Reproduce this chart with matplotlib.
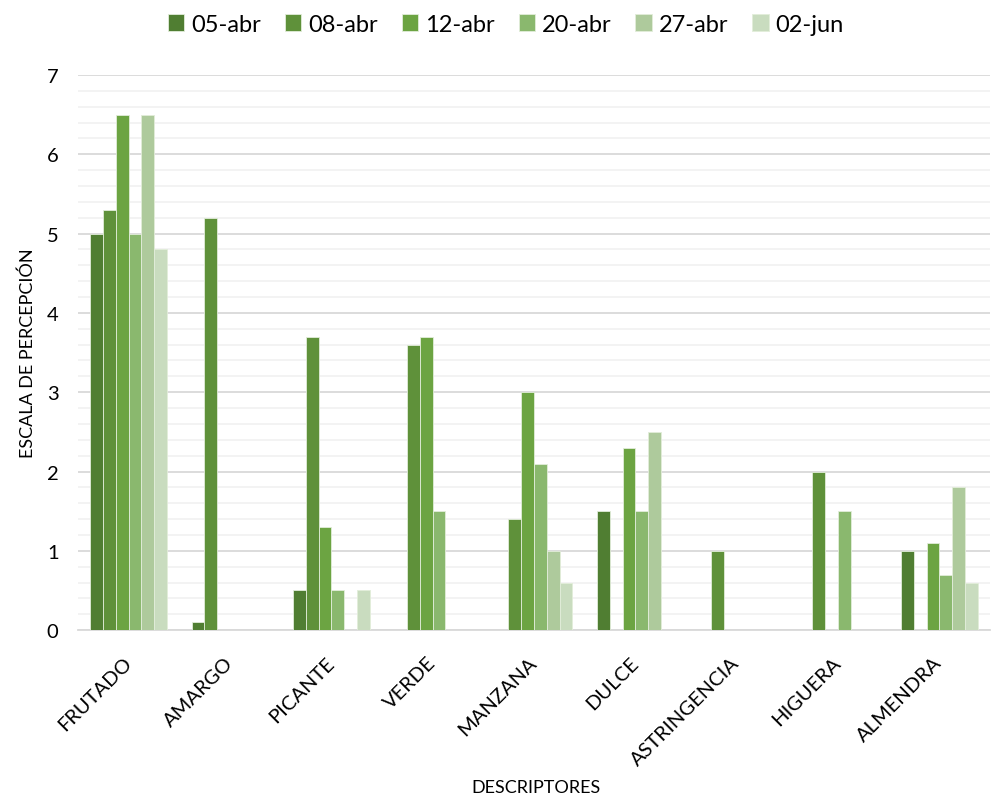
import matplotlib.pyplot as plt
import numpy as np

plt.rcParams['font.family'] = ['Lato', 'DejaVu Sans']

# descriptores y fechas de cata
descriptores = ['FRUTADO', 'AMARGO', 'PICANTE', 'VERDE', 'MANZANA', 'DULCE',
                'ASTRINGENCIA', 'HIGUERA', 'ALMENDRA']
fechas = ['05-abr', '08-abr', '12-abr', '20-abr', '27-abr', '02-jun']

abr05 = [5.0, 0.1, 0.5, 0.0, 0.0, 1.5, 0.0, 0.0, 1.0]
abr08 = [5.3, 5.2, 3.7, 3.6, 1.4, 0.0, 1.0, 2.0, 0.0]
abr12 = [6.5, 0.0, 1.3, 3.7, 3.0, 2.3, 0.0, 0.0, 1.1]
abr20 = [5.0, 0.0, 0.5, 1.5, 2.1, 1.5, 0.0, 1.5, 0.7]
abr27 = [6.5, 0.0, 0.0, 0.0, 1.0, 2.5, 0.0, 0.0, 1.8]
jun02 = [4.8, 0.0, 0.5, 0.0, 0.6, 0.0, 0.0, 0.0, 0.6]
series = [abr05, abr08, abr12, abr20, abr27, jun02]

colores = ['#507E32', '#5F913A', '#6CA442', '#8AB86E', '#AECA9C', '#C9DCBF']

fig = plt.figure(figsize=(9.92, 8.04), dpi=100)
ax = fig.add_axes([0.0786, 0.215, 0.9194, 0.6905])

x = np.arange(len(descriptores))
ancho = 0.126
for i, (vals, fecha, c) in enumerate(zip(series, fechas, colores)):
    pos = x + (i - 2.5) * ancho
    ax.bar(pos, vals, width=ancho, color=c, edgecolor='#E2EDDA', linewidth=0.6,
           label=fecha, zorder=3)

ax.set_xlim(-0.5, len(descriptores) - 0.5)
ax.set_ylim(0, 7)
ax.set_yticks(range(0, 8))
ax.set_yticks(np.arange(0, 7.01, 0.2), minor=True)
ax.grid(axis='y', which='major', color='#D9D9D9', linewidth=1.3, zorder=0)
ax.grid(axis='y', which='minor', color='#F2F2F2', linewidth=1.3, zorder=0)
ax.tick_params(axis='y', which='both', length=0, labelsize=14.5, pad=14)
ax.tick_params(axis='x', length=0, labelsize=14.5, pad=21)
ax.set_xticks(x)
ax.set_xticklabels(descriptores, rotation=45, ha='right', va='center',
                   rotation_mode='anchor')

for s in ['top', 'right', 'left']:
    ax.spines[s].set_visible(False)
ax.spines['bottom'].set_color('#D9D9D9')
ax.spines['bottom'].set_linewidth(1.3)

ax.set_ylabel('ESCALA DE PERCEPCIÓN', fontsize=13, labelpad=8)
fig.text(0.54, 0.01, 'DESCRIPTORES', fontsize=13, ha='center', va='bottom')

fig.legend(loc='upper center', bbox_to_anchor=(0.51, 1.008), ncol=6, frameon=False,
           fontsize=17, handlelength=0.7, handleheight=0.7, handletextpad=0.3,
           columnspacing=1.0)

fig.savefig('out.png', dpi=100)
